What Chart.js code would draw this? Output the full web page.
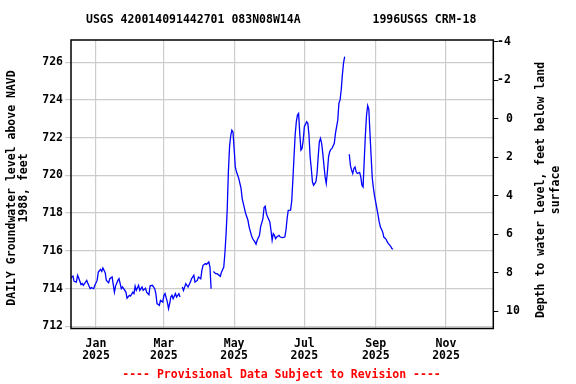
<!DOCTYPE html>
<html><head><meta charset="utf-8">
<script src="https://cdn.jsdelivr.net/npm/chart.js@4"></script>
<style>html,body{margin:0;padding:0;background:#fff;}</style>
</head><body>
<canvas id="c" width="576" height="384"></canvas>
<script>
const titleLeft = "USGS 420014091442701 083N08W14A";
const titleRight = "1996USGS CRM-18";
const footer = "---- Provisional Data Subject to Revision ----";
const leftTitle = ["DAILY Groundwater level above NAVD", "1988, feet"];
const rightTitle = ["Depth to water level, feet below land", "surface"];

const monthTickDates = ["2025-01-01","2025-03-01","2025-05-01","2025-07-01","2025-09-01","2025-11-01"];
const monthTickLabels = ["Jan","Mar","May","Jul","Sep","Nov"];
const levelTicks = [712,714,716,718,720,722,724,726];
const depthTicks = [-4,-2,0,2,4,6,8,10];

const dates = [
"2024-12-09","2024-12-11","2024-12-12","2024-12-13","2024-12-15","2024-12-16","2024-12-17","2024-12-19","2024-12-20","2024-12-21",
"2024-12-22","2024-12-24","2024-12-25","2024-12-27","2024-12-28","2024-12-30","2024-12-31","2025-01-02","2025-01-03","2025-01-05",
"2025-01-06","2025-01-07","2025-01-09","2025-01-10","2025-01-12","2025-01-13","2025-01-15","2025-01-16","2025-01-17","2025-01-18",
"2025-01-20","2025-01-21","2025-01-23","2025-01-24","2025-01-25","2025-01-27","2025-01-28","2025-01-30","2025-01-31","2025-02-02",
"2025-02-03","2025-02-04","2025-02-05","2025-02-07","2025-02-08","2025-02-10","2025-02-11","2025-02-13","2025-02-14","2025-02-16",
"2025-02-17","2025-02-19","2025-02-21","2025-02-22","2025-02-23","2025-02-25","2025-02-26","2025-02-28","2025-03-01","2025-03-02",
"2025-03-04","2025-03-05","2025-03-06","2025-03-07","2025-03-08","2025-03-09","2025-03-11","2025-03-12","2025-03-14","2025-03-15",
"2025-03-16","2025-03-17","2025-03-18","2025-03-20","2025-03-21","2025-03-22","2025-03-24","2025-03-25","2025-03-27","2025-03-28",
"2025-03-30","2025-03-31","2025-04-02","2025-04-03","2025-04-04","2025-04-06","2025-04-07","2025-04-09","2025-04-10","2025-04-11",
"2025-04-12","2025-04-13","2025-04-15","2025-04-16","2025-04-17","2025-04-19","2025-04-20","2025-04-22","2025-04-23","2025-04-24",
"2025-04-25","2025-04-26","2025-04-27","2025-04-28","2025-04-29","2025-04-30","2025-05-01","2025-05-02","2025-05-03","2025-05-05",
"2025-05-07","2025-05-08","2025-05-10","2025-05-11","2025-05-13","2025-05-14","2025-05-16","2025-05-17","2025-05-19","2025-05-20",
"2025-05-21","2025-05-23","2025-05-24","2025-05-26","2025-05-27","2025-05-28","2025-05-29","2025-05-30","2025-06-01","2025-06-02",
"2025-06-03","2025-06-04","2025-06-05","2025-06-06","2025-06-07","2025-06-09","2025-06-10","2025-06-12","2025-06-14","2025-06-15",
"2025-06-16","2025-06-17","2025-06-19","2025-06-20","2025-06-21","2025-06-22","2025-06-23","2025-06-24","2025-06-25","2025-06-26",
"2025-06-27","2025-06-28","2025-06-29","2025-06-30","2025-07-01","2025-07-03","2025-07-04","2025-07-05","2025-07-06","2025-07-07",
"2025-07-08","2025-07-09","2025-07-11","2025-07-12","2025-07-13","2025-07-14","2025-07-15","2025-07-16","2025-07-17","2025-07-18",
"2025-07-19","2025-07-20","2025-07-21","2025-07-22","2025-07-23","2025-07-24","2025-07-25","2025-07-27","2025-07-28","2025-07-30",
"2025-07-31","2025-08-01","2025-08-02","2025-08-03","2025-08-04","2025-08-05","2025-08-06","2025-08-09","2025-08-10","2025-08-11",
"2025-08-12","2025-08-13","2025-08-14","2025-08-15","2025-08-16","2025-08-18","2025-08-19","2025-08-20","2025-08-21","2025-08-22",
"2025-08-23","2025-08-24","2025-08-25","2025-08-26","2025-08-27","2025-08-28","2025-08-29","2025-08-30","2025-08-31","2025-09-02",
"2025-09-03","2025-09-04","2025-09-05","2025-09-07","2025-09-08","2025-09-10","2025-09-11","2025-09-12","2025-09-14","2025-09-15",
"2025-09-16"
];
const levels = [
714.52,714.61,714.66,714.38,714.34,714.70,714.56,714.21,714.27,714.17,
714.26,714.43,714.26,713.99,714.05,713.99,714.17,714.43,714.87,715.02,
714.91,715.09,714.84,714.43,714.31,714.52,714.61,714.21,713.81,714.13,
714.43,714.52,713.99,714.08,713.99,713.81,713.49,713.64,713.60,713.81,
713.73,714.13,713.90,714.17,713.90,714.08,713.90,714.02,713.81,713.67,
714.15,714.17,713.99,713.73,713.20,713.11,713.37,713.28,713.64,713.73,
713.28,712.93,713.20,713.55,713.64,713.46,713.73,713.55,713.73,713.55,
null,714.08,713.90,714.26,714.17,714.08,714.34,714.52,714.70,714.34,
714.43,714.61,714.52,714.96,715.23,715.32,715.28,715.41,715.14,713.99,
null,714.90,714.79,714.79,714.75,714.65,714.87,715.14,715.90,716.90,
718.20,720.20,721.50,722.10,722.40,722.30,721.40,720.45,720.19,719.84,
719.31,718.77,718.24,717.98,717.62,717.27,716.82,716.65,716.47,716.35,
716.56,716.82,717.27,717.71,718.30,718.37,717.98,717.80,717.53,717.09,
716.56,716.91,716.82,716.65,716.73,716.82,716.73,716.70,716.73,717.09,
717.70,718.15,718.16,718.63,719.75,720.98,722.14,722.84,723.20,723.29,
722.23,721.34,721.43,721.87,722.58,722.84,722.76,722.14,720.98,720.37,
719.66,719.48,719.66,720.10,720.98,721.78,721.96,721.70,721.17,720.54,
719.92,719.57,720.19,720.98,721.25,721.38,721.43,721.70,722.23,722.93,
723.82,724.00,724.53,725.33,725.95,726.30,null,721.12,720.53,720.28,
720.10,720.37,720.45,720.19,720.10,720.16,719.92,719.48,719.39,720.80,
722.14,723.20,723.70,723.50,722.20,721.00,719.84,719.31,718.90,718.24,
717.89,717.53,717.27,717.00,716.73,716.61,716.47,716.38,716.24,716.12,
716.08
];

const FONT = "'DejaVu Sans Mono', 'Liberation Mono', monospace";
Chart.defaults.font.family = FONT;
Chart.defaults.font.size = 11.5;
Chart.defaults.font.weight = 'bold';
Chart.defaults.color = '#000';

function dayOffset(s){
  const p = s.split('-').map(Number);
  return (Date.UTC(p[0], p[1]-1, p[2]) - Date.UTC(2025,0,1)) / 86400000;
}
const points = dates.map((d,i) => ({x: dayOffset(d), y: levels[i]}));

const decor = {
  id: 'decor',
  afterDraw(chart){
    const ctx = chart.ctx, a = chart.chartArea;
    ctx.save();
    ctx.strokeStyle = '#000';
    ctx.lineWidth = 1.5;
    ctx.strokeRect(a.left, a.top, a.right - a.left, a.bottom - a.top);
    ctx.font = "bold 11.5px " + FONT;
    ctx.fillStyle = '#000';
    ctx.textBaseline = 'middle';
    ctx.textAlign = 'left';
    ctx.fillText(titleLeft, 86, 20);
    ctx.fillText(titleRight, 372.5, 20);
    // right axis labels
    const s2 = chart.scales.y2;
    s2.ticks.forEach(t => {
      const y = s2.getPixelForValue(t.value);
      ctx.fillText(String(t.value), t.value < 0 ? 497 : 506, y);
    });
    ctx.textAlign = 'center';
    ctx.fillStyle = '#ff0000';
    ctx.fillText(footer, 281.5, 375);
    ctx.fillStyle = '#000';
    // left axis title
    ctx.save();
    ctx.translate(12, 188); ctx.rotate(-Math.PI/2);
    ctx.fillText(leftTitle[0], 0, 0);
    ctx.fillText(leftTitle[1], 0, 12);
    ctx.restore();
    ctx.save();
    ctx.translate(541, 190); ctx.rotate(-Math.PI/2);
    ctx.fillText(rightTitle[0], 0, 0);
    ctx.fillText(rightTitle[1], 0, 15);
    ctx.restore();
    ctx.restore();
  }
};

new Chart(document.getElementById('c'), {
  type: 'line',
  data: { datasets: [{
    data: points, borderColor: '#0000ff', borderWidth: 1.3, pointRadius: 0,
    tension: 0, spanGaps: false, fill: false, xAxisID: 'x', yAxisID: 'y'
  }]},
  options: {
    responsive: false, animation: false, devicePixelRatio: 1,
    layout: { padding: { top: 40, left: 0, right: 0, bottom: 0 } },
    plugins: { legend: {display: false}, title: {display: false}, tooltip: {enabled: false} },
    scales: {
      x: {
        type: 'linear', position: 'bottom', min: -21.7, max: 345.1,
        afterBuildTicks: s => { s.ticks = monthTickDates.map(d => ({value: dayOffset(d)})); },
        afterFit: s => { s.height = 55.5; },
        ticks: { autoSkip: false, maxRotation: 0, padding: 9,
          font: { lineHeight: 1.08 },
          callback: (v, i) => [monthTickLabels[i], monthTickDates[i].slice(0,4)] },
        grid: { color: '#cccccc', lineWidth: 1.2, drawTicks: false },
        border: { display: false }
      },
      y: {
        type: 'linear', position: 'left', min: 711.88, max: 727.18,
        afterBuildTicks: s => { s.ticks = levelTicks.map(v => ({value: v})); },
        afterFit: s => { s.width = 71; },
        ticks: { padding: 2, callback: v => String(v) },
        grid: { color: '#cccccc', lineWidth: 1.2, tickLength: 6 },
        border: { display: false }
      },
      y2: {
        type: 'linear', position: 'right', reverse: true, min: -4.10, max: 10.91,
        afterBuildTicks: s => { s.ticks = depthTicks.map(v => ({value: v})); },
        afterFit: s => { s.width = 82.7; },
        ticks: { display: false },
        grid: { drawOnChartArea: false, color: '#000', tickLength: 5, lineWidth: 1 },
        border: { display: false }
      }
    }
  },
  plugins: [decor]
});
</script>
</body></html>
